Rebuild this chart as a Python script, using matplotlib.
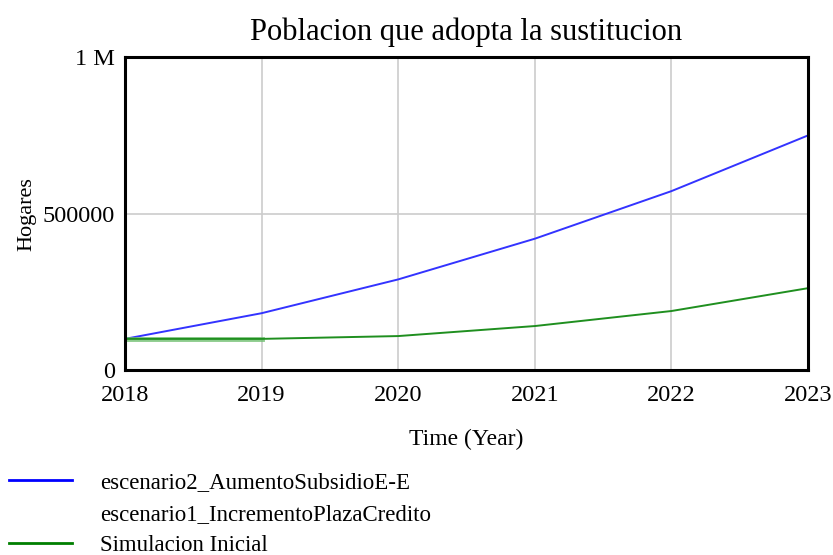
import matplotlib
matplotlib.use("Agg")
import matplotlib.pyplot as plt
from matplotlib.ticker import FixedLocator
from matplotlib.lines import Line2D

plt.rcParams['font.family'] = ['Liberation Serif', 'DejaVu Serif']

years = [2018, 2019, 2020, 2021, 2022, 2023]
escenario2 = [100000, 182000, 290000, 420000, 572000, 750000]
escenario1 = [100000, 100000, 100000, 100000, 100000, 100000]
simulacion = [100000, 100000, 109000, 141000, 189000, 262000]
ytick_vals = [0, 500000, 1000000]
ytick_labels = ['0', '500000', '1 M']

fig = plt.figure(figsize=(8.33, 5.55), dpi=100)
ax = fig.add_axes([0.150, 0.333, 0.820, 0.564])

ax.plot(years, escenario2, color='#3333ff', lw=1.4, label='escenario2_AumentoSubsidioE-E')
ax.plot(years[:2], escenario1[:2], color='#6fbf6f', lw=3.5, alpha=0.8,
        label='escenario1_IncrementoPlazaCredito')
ax.plot(years, simulacion, color='#1f8f1f', lw=1.4, label='Simulacion Inicial')

ax.set_xlim(2018, 2023)
ax.set_ylim(0, 1000000)
ax.xaxis.set_major_locator(FixedLocator(years))
ax.set_xticklabels([str(y) for y in years])
ax.yaxis.set_major_locator(FixedLocator(ytick_vals))
ax.set_yticklabels(ytick_labels)
ax.tick_params(axis='x', length=0, labelsize=17.5, pad=11)
ax.tick_params(axis='y', length=0, labelsize=17.5, pad=7)
ax.grid(True, color='#cccccc', lw=1.2)
for s in ax.spines.values():
    s.set_linewidth(2.2)
    s.set_color('black')

ax.set_title('Poblacion que adopta la sustitucion', fontsize=22, pad=12)
ax.set_xlabel('Time (Year)', fontsize=17, labelpad=16)
ax.set_ylabel('Hogares', fontsize=16)
ax.yaxis.set_label_coords(-0.130, 0.5)

labels = [l.get_label() for l in ax.get_lines()]
h = [Line2D([0], [0], color='#0000ff', lw=2),
     Line2D([0], [0], color='white', lw=2),
     Line2D([0], [0], color='#007f00', lw=2)]
fig.legend(h, labels, loc='lower left', bbox_to_anchor=(-0.008, -0.031), frameon=False,
           fontsize=16.5, handlelength=2.75, handletextpad=1.2, labelspacing=0.45,
           borderaxespad=0.3)

fig.savefig('out.png', dpi=100)
